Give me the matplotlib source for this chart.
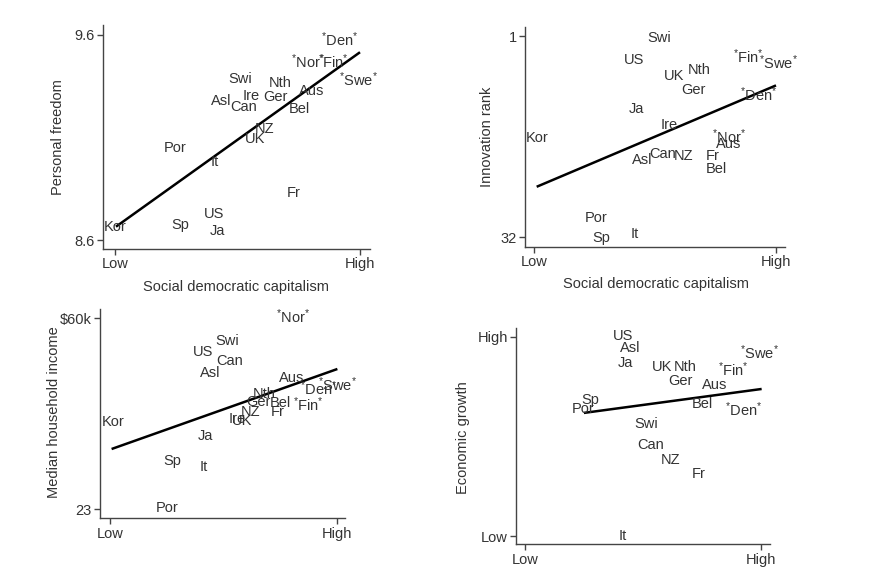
import matplotlib
matplotlib.use("Agg")
import matplotlib.pyplot as plt

plt.rcParams['font.family'] = ['Liberation Sans', 'DejaVu Sans']
plt.rcParams['mathtext.fontset'] = 'custom'
plt.rcParams['mathtext.rm'] = 'Liberation Sans'
plt.rcParams['mathtext.it'] = 'Liberation Sans'
plt.rcParams['mathtext.bf'] = 'Liberation Sans'

W, H = 887, 570
TXT = '#333333'
FS = 10.5
D = r'$^{\mathrm{*}}$'  # small raised mark used around the Nordic names

# ---- Panel 1: Personal freedom ----
pf_names = [D + 'Den' + D, D + 'Nor' + D, D + 'Fin' + D, D + 'Swe' + D, 'Swi', 'Nth', 'Ire', 'Ger', 'Aus',
            'Asl', 'Can', 'Bel', 'NZ', 'UK', 'Por', 'It', 'Fr', 'US', 'Sp', 'Ja', 'Kor']
pf_x = [0.918, 0.789, 0.891, 0.993, 0.510, 0.676, 0.554, 0.653, 0.803, 0.435, 0.527,
        0.751, 0.612, 0.571, 0.245, 0.408, 0.731, 0.405, 0.265, 0.418, 0.0]
pf_y = [9.579, 9.470, 9.470, 9.380, 9.385, 9.367, 9.304, 9.296, 9.327, 9.278, 9.247,
        9.238, 9.143, 9.093, 9.050, 8.979, 8.828, 8.725, 8.672, 8.645, 8.662]
pf_fit_x = [0.004, 1.0]
pf_fit_y = [8.665, 9.516]

# ---- Panel 2: Innovation rank ----
ir_names = ['Swi', 'US', D + 'Fin' + D, D + 'Swe' + D, 'Nth', 'UK', 'Ger', D + 'Den' + D, 'Ja', 'Ire', 'Kor',
            D + 'Nor' + D, 'Aus', 'Can', 'NZ', 'Asl', 'Fr', 'Bel', 'Por', 'It', 'Sp']
ir_x = [0.517, 0.415, 0.886, 1.010, 0.683, 0.579, 0.658, 0.927, 0.424, 0.558, 0.011,
        0.807, 0.803, 0.532, 0.617, 0.448, 0.738, 0.755, 0.255, 0.417, 0.276]
ir_y = [1.26, 4.70, 4.08, 5.05, 6.13, 7.16, 9.21, 9.98, 12.14, 14.6, 16.6,
        16.4, 17.6, 19.2, 19.5, 20.1, 19.4, 21.5, 28.97, 31.5, 32.15]
ir_fit_x = [0.011, 1.0]
ir_fit_y = [24.2, 8.55]

# ---- Panel 3: Median household income ($k) ----
mi_names = [D + 'Nor' + D, 'Swi', 'US', 'Can', 'Asl', 'Aus', D + 'Den' + D, D + 'Swe' + D, 'Nth', 'Ger', 'Bel',
            D + 'Fin' + D, 'NZ', 'Fr', 'Ire', 'UK', 'Kor', 'Ja', 'Sp', 'It', 'Por']
mi_x = [0.809, 0.515, 0.412, 0.529, 0.444, 0.801, 0.919, 1.004, 0.679, 0.654, 0.753,
        0.875, 0.618, 0.738, 0.559, 0.581, 0.012, 0.423, 0.275, 0.415, 0.25]
mi_y = [60.3, 55.66, 53.41, 51.73, 49.34, 48.38, 46.44, 47.08, 45.28, 43.84, 43.53,
        43.2, 41.9, 41.79, 40.5, 40.1, 39.85, 37.26, 32.35, 31.25, 23.2]
mi_fit_x = [0.007, 1.003]
mi_fit_y = [34.68, 50.18]

# ---- Panel 4: Economic growth (0 = Low, 1 = High) ----
eg_names = ['US', 'Asl', 'Ja', D + 'Swe' + D, 'UK', 'Nth', D + 'Fin' + D, 'Ger', 'Aus', 'Sp', 'Por',
            'Bel', D + 'Den' + D, 'Swi', 'Can', 'NZ', 'Fr', 'It']
eg_x = [0.414, 0.445, 0.426, 0.997, 0.579, 0.681, 0.884, 0.657, 0.803, 0.275, 0.244,
        0.754, 0.926, 0.513, 0.533, 0.615, 0.738, 0.416]
eg_y = [1.0, 0.943, 0.868, 0.917, 0.847, 0.847, 0.833, 0.775, 0.758, 0.68, 0.635,
        0.663, 0.633, 0.563, 0.458, 0.38, 0.31, 0.0]
eg_fit_x = [0.249, 1.004]
eg_fit_y = [0.617, 0.737]

x_ticks = [0, 1]
x_ticklabels = ['Low', 'High']


def make_axes(fig, left, right, top, bottom, xt_px, yt_px, xt_val, yt_val):
    ax = fig.add_axes([left / W, 1 - bottom / H, (right - left) / W, (bottom - top) / H])
    ax._px = (left, right, top, bottom)
    sx = (xt_val[1] - xt_val[0]) / (xt_px[1] - xt_px[0])
    ax.set_xlim(xt_val[0] + (left - xt_px[0]) * sx, xt_val[0] + (right - xt_px[0]) * sx)
    sy = (yt_val[1] - yt_val[0]) / (yt_px[1] - yt_px[0])
    ax.set_ylim(yt_val[0] + (bottom - yt_px[0]) * sy, yt_val[0] + (top - yt_px[0]) * sy)
    for s in ['top', 'right']:
        ax.spines[s].set_visible(False)
    for s in ['left', 'bottom']:
        ax.spines[s].set_color('#444444')
        ax.spines[s].set_linewidth(1.0)
    ax.tick_params(direction='out', length=4, width=1.0, color='#444444',
                   labelsize=FS, labelcolor=TXT, pad=2)
    ax.patch.set_visible(False)
    return ax


def place_ylabel(ax, text, px_x, px_y):
    left, right, top, bottom = ax._px
    ax.set_ylabel(text, fontsize=FS, color=TXT)
    ax.yaxis.set_label_coords((px_x - left) / (right - left), (bottom - px_y) / (bottom - top))
    ax.yaxis.label.set_va('center')


def place_xlabel(ax, text, px_x, px_y):
    left, right, top, bottom = ax._px
    ax.set_xlabel(text, fontsize=FS, color=TXT)
    ax.xaxis.set_label_coords((px_x - left) / (right - left), (bottom - px_y) / (bottom - top))
    ax.xaxis.label.set_va('center')


def draw(ax, names, xs, ys, fx, fy):
    for n, x, y in zip(names, xs, ys):
        ax.text(x, y, n, ha='center', va='center', fontsize=FS, color=TXT, clip_on=False)
    ax.plot(fx, fy, color='black', lw=1.8, solid_capstyle='butt')


fig = plt.figure(figsize=(W / 100, H / 100), dpi=100)
fig.patch.set_facecolor('white')

ax1 = make_axes(fig, 103, 370, 25, 249, [115, 360], [240, 35], [0, 1], [8.6, 9.6])
draw(ax1, pf_names, pf_x, pf_y, pf_fit_x, pf_fit_y)
ax1.set_xticks(x_ticks, x_ticklabels)
ax1.set_yticks([8.6, 9.6], ['8.6', '9.6'])
place_xlabel(ax1, 'Social democratic capitalism', 236, 287)
place_ylabel(ax1, 'Personal freedom', 58, 137)

ax2 = make_axes(fig, 525, 785, 27, 246.7, [534, 776], [36.5, 237.3], [0, 1], [1, 32])
draw(ax2, ir_names, ir_x, ir_y, ir_fit_x, ir_fit_y)
ax2.set_xticks(x_ticks, x_ticklabels)
ax2.set_yticks([1, 32], ['1', '32'])
place_xlabel(ax2, 'Social democratic capitalism', 656, 284)
place_ylabel(ax2, 'Innovation rank', 487, 137)

ax3 = make_axes(fig, 100, 345, 309, 518.3, [110, 336.7], [509.3, 318.3], [0, 1], [23, 60])
draw(ax3, mi_names, mi_x, mi_y, mi_fit_x, mi_fit_y)
ax3.set_xticks(x_ticks, x_ticklabels)
ax3.set_yticks([23, 60], ['23', '$60k'])
place_ylabel(ax3, 'Median household income', 54, 412)

ax4 = make_axes(fig, 516, 770, 328, 544.3, [525.3, 760.7], [536, 336.5], [0, 1], [0, 1])
draw(ax4, eg_names, eg_x, eg_y, eg_fit_x, eg_fit_y)
ax4.set_xticks(x_ticks, x_ticklabels)
ax4.set_yticks([0, 1], ['Low', 'High'])
place_ylabel(ax4, 'Economic growth', 463, 438)

fig.savefig('out.png', dpi=100, facecolor='white')
